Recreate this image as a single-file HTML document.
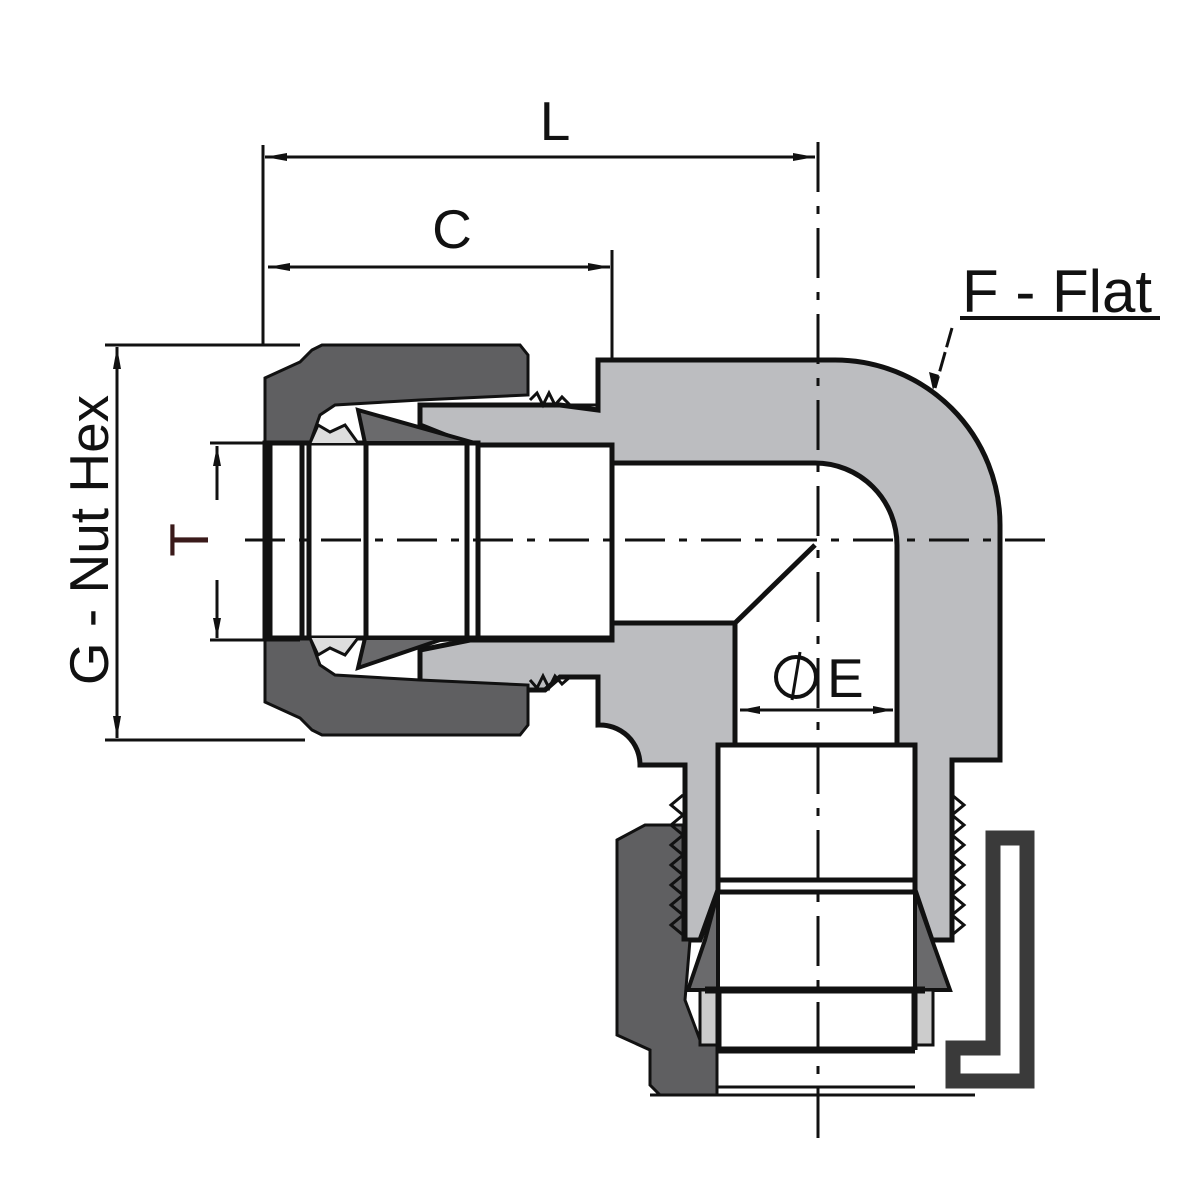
<!DOCTYPE html>
<html><head><meta charset="utf-8"><style>html,body{margin:0;padding:0;background:#fff}svg{display:block}</style></head>
<body>
<svg width="1200" height="1200" viewBox="0 0 1200 1200" xmlns="http://www.w3.org/2000/svg" font-family="Liberation Sans, sans-serif">
<rect width="1200" height="1200" fill="#fff"/>
<g stroke="#111" stroke-width="5" stroke-linejoin="miter">
<!-- body -->
<path d="M598,360 H835 A165,165 0 0 1 1000,525 V760 H952 V940 H932 L915,890 H718 L700,940 H685 V765 H640 A40,40 0 0 0 598,725 V677 H560 L545,690 H420 L420,650 L470,640 H612 V445 H470 L420,425 V405 H560 L598,410 Z" fill="#bcbdc0"/>
<!-- bores -->
<path d="M612,463 H815 A82,82 0 0 1 897,545 V745 H735 V623 H612 Z" fill="#fff"/>
<rect x="478" y="445" width="134" height="193" fill="#fff"/>
<rect x="718" y="745" width="197" height="145" fill="#fff"/>
<!-- upper nut -->
<path d="M322,345 H520 L528,355 V395 L420,400 L335,405 L320,415 L310,443 H265 V378 L300,362 L312,350 Z" fill="#5f5f61" stroke-width="3"/>
<path d="M322,735 H520 L528,725 V685 L420,680 L335,675 L320,665 L310,638 H265 V702 L300,718 L312,730 Z" fill="#5f5f61" stroke-width="3"/>
<!-- nut bore -->
<rect x="265" y="443" width="213" height="195" fill="#fff"/>
<!-- ferrules upper -->
<path d="M358,410 L475,443 H365 Z" fill="#6a6a6c" stroke-width="4"/>
<path d="M440,640 L475,638 L365,638 L358,668 Z" fill="#6a6a6c" stroke-width="4"/>
<path d="M310,443 L318,425 L330,432 L345,425 L358,443" fill="#ddd" stroke-width="3"/>
<path d="M310,638 L318,655 L330,648 L345,655 L358,638" fill="#ddd" stroke-width="3"/>
<!-- threads upper -->
<polyline points="530,400 537,393 543,405 549,393 555,405 562,397 570,405 598,405" fill="none" stroke-width="3"/>
<polyline points="530,680 537,688 543,676 549,688 555,676 562,684 570,677 598,677" fill="none" stroke-width="3"/>
<!-- vertical lines in bore -->
<line x1="270" y1="443" x2="270" y2="638"/><line x1="302" y1="443" x2="302" y2="638"/><line x1="309" y1="443" x2="309" y2="638"/>
<line x1="366" y1="443" x2="366" y2="638"/><line x1="467" y1="443" x2="467" y2="638"/><line x1="478" y1="443" x2="478" y2="638"/>
<!-- lower nut -->
<path d="M617,840 L645,825 H683 V940 H690 L685,1000 L700,1040 L717,1045 V1095 H660 L650,1085 V1050 L617,1035 Z" fill="#5f5f61" stroke-width="3"/>
<polyline points="683,795 671,805 683,815 671,825 683,835 671,845 683,855 671,865 683,875 671,885 683,895 671,905 683,915 671,925 683,935" fill="none" stroke-width="3"/>
<polyline points="952,795 964,805 952,815 964,825 952,835 964,845 952,855 964,865 952,875 964,885 952,895 964,905 952,915 964,925 952,935" fill="none" stroke-width="3"/>
<!-- lower ferrule -->
<path d="M718,892 V990 H688 L705,940 Z" fill="#6a6a6c" stroke-width="4"/>
<path d="M915,892 V990 H950 L932,940 Z" fill="#6a6a6c" stroke-width="4"/>
<rect x="718" y="880" width="197" height="12" fill="#fff"/>
<rect x="700" y="990" width="20" height="55" fill="#ccc" stroke-width="3"/>
<rect x="913" y="990" width="20" height="55" fill="#ccc" stroke-width="3"/>
<line x1="705" y1="990" x2="925" y2="990" stroke-width="7"/>
<line x1="718" y1="1050" x2="915" y2="1050" stroke-width="7"/>
<line x1="718" y1="990" x2="718" y2="1050"/><line x1="915" y1="990" x2="915" y2="1050"/>
<line x1="718" y1="1087" x2="915" y2="1087" stroke-width="3"/>
<line x1="650" y1="1095" x2="975" y2="1095" stroke-width="3"/>
</g>
<!-- bracket -->
<path d="M993,838 H1027 V1081 H953 V1048 H993 Z" fill="none" stroke="#3a3a3a" stroke-width="15"/>
<g stroke="#111" stroke-width="3" fill="none">
<!-- centerlines -->
<line x1="245" y1="540" x2="1058" y2="540" stroke-dasharray="40,14,8,14"/>
<line x1="818" y1="142" x2="818" y2="1150" stroke-dasharray="50,14,8,14"/>
<line x1="735" y1="623" x2="815" y2="545" stroke-width="5"/>
<!-- extension lines -->
<line x1="263" y1="145" x2="263" y2="345"/>
<line x1="612" y1="250" x2="612" y2="360"/>
<line x1="105" y1="345" x2="300" y2="345"/>
<line x1="105" y1="740" x2="305" y2="740"/>
<line x1="210" y1="443" x2="300" y2="443"/>
<line x1="210" y1="640" x2="300" y2="640"/>
<!-- dims -->
<line x1="265" y1="157" x2="815" y2="157"/>
<line x1="268" y1="267" x2="610" y2="267"/>
<line x1="117" y1="347" x2="117" y2="738"/>
<line x1="217" y1="446" x2="217" y2="500"/><line x1="217" y1="580" x2="217" y2="638"/>
<line x1="740" y1="710" x2="893" y2="710"/>
<line x1="952" y1="328" x2="935" y2="388" stroke-dasharray="20,5"/>
<line x1="960" y1="318" x2="1160" y2="318" stroke-width="4"/>
</g>
<g fill="#111">
<path d="M265,157 l22,-4 v8 Z"/><path d="M815,157 l-22,-4 v8 Z"/>
<path d="M268,267 l22,-4 v8 Z"/><path d="M610,267 l-22,-4 v8 Z"/>
<path d="M117,347 l-4,22 h8 Z"/><path d="M117,738 l-4,-22 h8 Z"/>
<path d="M217,446 l-4,20 h8 Z"/><path d="M217,638 l-4,-20 h8 Z"/>
<path d="M740,710 l20,-4 v8 Z"/><path d="M893,710 l-20,-4 v8 Z"/>
<path d="M933,390 l-4,-18 l10,3 Z"/>
<text x="555" y="140" font-size="55" text-anchor="middle">L</text>
<text x="452" y="248" font-size="55" text-anchor="middle">C</text>
<text x="962" y="312" font-size="60">F - Flat</text>
<text x="827" y="697" font-size="55">E</text>
<text transform="translate(108,540) rotate(-90)" font-size="55" text-anchor="middle">G - Nut Hex</text>
<text transform="translate(208,540) rotate(-90)" font-size="55" text-anchor="middle" fill="#3a1a1a">T</text>
</g>
<circle cx="796" cy="677" r="20" fill="none" stroke="#111" stroke-width="4"/>
<line x1="800" y1="652" x2="792" y2="700" stroke="#111" stroke-width="3"/>
</svg>
</body></html>
